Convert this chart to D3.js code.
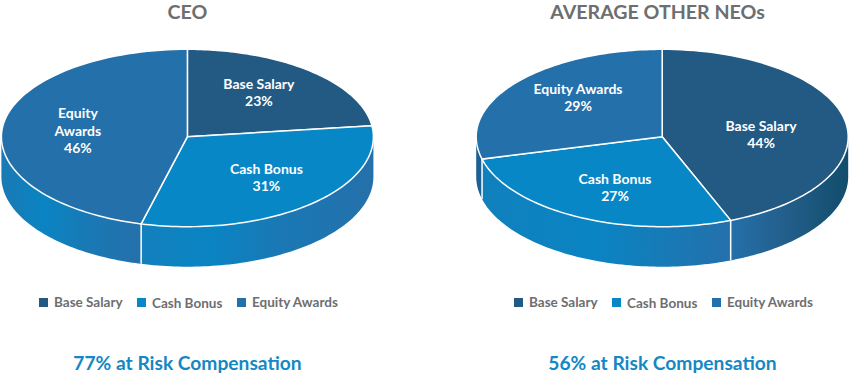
<!DOCTYPE html>
<html>
<head>
<meta charset="utf-8">
<script src="https://cdn.jsdelivr.net/npm/d3@7"></script>
<style>
  html, body { margin: 0; padding: 0; background: #fff; }
  svg { display: block; }
  text { font-family: Lato, "Open Sans", sans-serif; }
</style>
</head>
<body>
<svg width="850" height="377"></svg>
<script>
const categories = ["Base Salary", "Cash Bonus", "Equity Awards"];
const ceoValues = [23, 31, 46];
const neoValues = [44, 27, 29];
const ceoLabelLines = [["Base Salary"], ["Cash Bonus"], ["Equity", "Awards"]];
const neoLabelLines = [["Base Salary"], ["Cash Bonus"], ["Equity Awards"]];
const titles = ["CEO", "AVERAGE OTHER NEOs"];
const footers = ["77% at Risk Compensation", "56% at Risk Compensation"];

const colors = ["#235a84", "#0787c6", "#2470aa"];
const grey = "#6d6e70";

const svg = d3.select("svg");
const defs = svg.append("defs");

const color = d3.scaleOrdinal().domain(categories).range(colors);
const pie = d3.pie().sort(null).value(d => d.value);

// tilted view: the front half of the rim is a bit deeper than the back half
const rx = 186, ryBack = 87.4, ryFront = 90, depth = 40, cy = 136.7;

function drawPie(opts) {
    const cx = opts.cx;
    const g = svg.append("g");
    const rows = categories.map((c, i) => ({ name: c, value: opts.values[i], lines: opts.lines[i] }));
    const arcs = pie(rows);

    const rimX = a => cx + rx * Math.sin(a);
    const rimY = a => {
        const c = Math.cos(a);
        return cy - (c > 0 ? ryBack : ryFront) * c;
    };
    const line = d3.line();

    // points along the rim between two angles
    const rimPoints = (a0, a1) => {
        const steps = d3.scaleLinear().domain([0, 80]).range([a0, a1]);
        return d3.range(81).map(t => [rimX(steps(t)), rimY(steps(t))]);
    };

    // side wall, only the part facing front (90 to 270 deg)
    arcs.forEach((d, i) => {
        const a0 = Math.max(d.startAngle, Math.PI / 2);
        const a1 = Math.min(d.endAngle, Math.PI * 1.5);
        if (a1 <= a0) return;

        const gradId = opts.id + "-wall-" + i;
        const grad = defs.append("linearGradient").attr("id", gradId);
        opts.wallStops[i].forEach(s => {
            grad.append("stop").attr("offset", s[0]).attr("stop-color", s[1]);
        });

        const top = rimPoints(a0, a1);
        const bottom = top.map(p => [p[0], p[1] + depth]).reverse();
        g.append("path")
            .attr("d", line(top.concat(bottom)) + "Z")
            .attr("fill", `url(#${gradId})`);
    });

    // white seams down the wall
    arcs.forEach(d => {
        const a = d.endAngle;
        if (a <= Math.PI / 2 || a >= Math.PI * 1.5) return;
        g.append("line")
            .attr("x1", rimX(a)).attr("x2", rimX(a))
            .attr("y1", rimY(a)).attr("y2", rimY(a) + depth)
            .attr("stroke", "#fff").attr("stroke-width", 1.5);
    });

    // top face
    g.append("g")
        .selectAll("path")
        .data(arcs)
        .enter()
        .append("path")
        .attr("d", d => line([[cx, cy]].concat(rimPoints(d.startAngle, d.endAngle))) + "Z")
        .attr("fill", d => color(d.data.name))
        .attr("stroke", "#fff")
        .attr("stroke-width", 1.5);

    // slice labels
    arcs.forEach((d, i) => {
        const lines = d.data.lines.concat([d.data.value + "%"]);
        const t = g.append("text")
            .attr("text-anchor", "middle")
            .attr("font-size", 14)
            .attr("font-weight", 700)
            .attr("fill", "#fff");
        lines.forEach((s, k) => {
            t.append("tspan")
                .attr("x", cx + opts.labelAt[i][0])
                .attr("y", cy + opts.labelAt[i][1] + k * 17.6)
                .text(s);
        });
    });

    // title
    g.append("text")
        .attr("x", opts.titleX).attr("y", 19)
        .attr("text-anchor", "middle")
        .attr("font-size", 19.6)
        .attr("font-weight", 700)
        .attr("fill", grey)
        .text(opts.title);

    // legend
    categories.forEach((c, i) => {
        g.append("rect")
            .attr("x", opts.legendX[i]).attr("y", 298)
            .attr("width", 9).attr("height", 9)
            .attr("fill", color(c));
        g.append("text")
            .attr("x", opts.legendX[i] + 15).attr("y", 307 + (i === 1 ? 0.7 : 0))
            .attr("font-size", 13.5)
            .attr("font-weight", 700)
            .attr("fill", grey)
            .text(c);
    });

    // footer
    g.append("text")
        .attr("x", opts.footerX).attr("y", 370)
        .attr("text-anchor", "middle")
        .attr("font-size", 19.2)
        .attr("font-weight", 700)
        .attr("fill", "#1587c4")
        .text(opts.footer);
}

drawPie({
    id: "ceo",
    cx: 187.4,
    values: ceoValues,
    lines: ceoLabelLines,
    title: titles[0],
    titleX: 187.5,
    footer: footers[0],
    footerX: 187.5,
    legendX: [39, 137, 237],
    labelAt: [[71.5, -48], [79, 37], [-109.5, -18.5]],
    wallStops: [
        [],
        [[0, "#1280bd"], [0.3, "#0a84c3"], [0.6, "#1a78b4"], [1, "#2470aa"]],
        [[0, "#1a79b4"], [0.3, "#0a84c3"], [0.65, "#1a78b4"], [1, "#2470aa"]]
    ]
});

drawPie({
    id: "neo",
    cx: 662.2,
    values: neoValues,
    lines: neoLabelLines,
    title: titles[1],
    titleX: 657.5,
    footer: footers[1],
    footerX: 662.5,
    legendX: [514, 612, 712],
    labelAt: [[98.8, -6], [-47.2, 47], [-84.2, -43]],
    wallStops: [
        [[0, "#2470aa"], [0.45, "#235f8c"], [1, "#124d6c"]],
        [[0, "#1180bd"], [0.45, "#0a84c3"], [0.8, "#1a78b4"], [1, "#2470aa"]],
        [[0, "#1d6093"], [1, "#1d6093"]]
    ]
});
</script>
</body>
</html>
